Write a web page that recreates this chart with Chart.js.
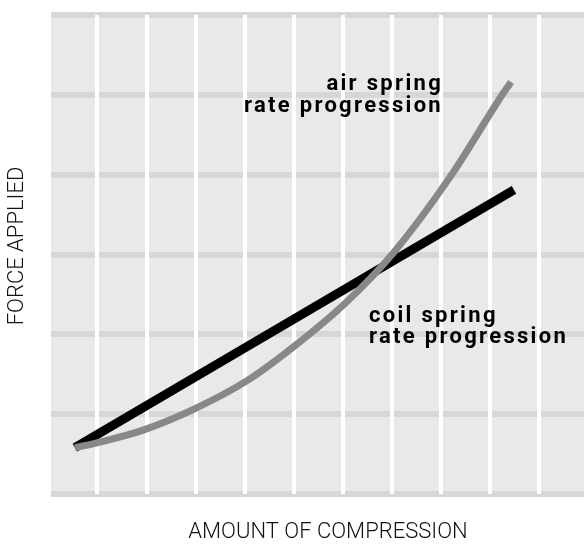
<!DOCTYPE html>
<html>
<head>
<meta charset="utf-8">
<script src="https://cdn.jsdelivr.net/npm/chart.js@4/dist/chart.umd.min.js"></script>
<style>
  html, body { margin: 0; padding: 0; background: #ffffff; }
  #wrap { width: 584px; height: 544px; }
</style>
</head>
<body>
<div id="wrap"><canvas id="chart" width="584" height="544"></canvas></div>
<script>
// air spring: progressive curve
const airX = [0.54, 1.05, 1.93, 2.99, 4.05, 5.05, 6.05, 7.03, 8.23, 9.26, 9.43]
const airY = [0.58, 0.65, 0.80, 1.07, 1.42, 1.87, 2.39, 3.02, 4.01, 5.01, 5.16]

// coil spring: straight line
const coilX = [0.54, 9.49]
const coilY = [0.58, 3.81]

// grid positions (no tick labels are shown)
const xGrid = [1, 2, 3, 4, 5, 6, 7, 8, 9, 10]
const yGrid = [0, 1, 2, 3, 4, 5, 6]

const toPoints = (xs, ys) => xs.map((x, i) => ({ x: x, y: ys[i] }))

// grey plot background, a bit taller than the chart area so the edge bands sit on it
const plotBackground = {
  id: 'plotBackground',
  beforeDraw(chart) {
    const { ctx, chartArea } = chart
    ctx.save()
    ctx.fillStyle = '#e9e9e9'
    ctx.fillRect(chartArea.left, chartArea.top - 3, chartArea.right - chartArea.left, chartArea.bottom - chartArea.top + 6)
    ctx.restore()
  }
}

// axis titles and the two curve labels
const labels = {
  id: 'labels',
  afterDatasetsDraw(chart) {
    const { ctx } = chart
    ctx.save()
    ctx.fillStyle = '#111111'

    ctx.font = '300 22px Roboto'
    ctx.textAlign = 'center'
    ctx.textBaseline = 'middle'
    ctx.fillText('AMOUNT OF COMPRESSION', 328, 532)
    ctx.save()
    ctx.translate(17, 246)
    ctx.rotate(-Math.PI / 2)
    ctx.fillText('FORCE APPLIED', 0, 0)
    ctx.restore()

    ctx.fillStyle = '#000000'
    ctx.font = 'bold 22px Roboto'
    ctx.letterSpacing = '2.3px'
    ctx.textBaseline = 'alphabetic'
    ctx.textAlign = 'right'
    ctx.fillText('air spring', 443, 90)
    ctx.fillText('rate progression', 443, 112)
    ctx.textAlign = 'left'
    ctx.fillText('coil spring', 369, 322)
    ctx.fillText('rate progression', 369, 343)
    ctx.restore()
  }
}

new Chart(document.getElementById('chart'), {
  type: 'line',
  data: {
    datasets: [
      {
        label: 'air spring rate progression',
        data: toPoints(airX, airY),
        borderColor: '#888888',
        borderWidth: 7,
        cubicInterpolationMode: 'monotone',
        borderJoinStyle: 'round',
        pointRadius: 0
      },
      {
        label: 'coil spring rate progression',
        data: toPoints(coilX, coilY),
        borderColor: '#000000',
        borderWidth: 9,
        pointRadius: 0
      }
    ]
  },
  plugins: [plotBackground, labels],
  options: {
    responsive: false,
    animation: false,
    layout: { padding: { left: 51, right: 0, top: 15, bottom: 50 } },
    plugins: {
      legend: { display: false },
      tooltip: { enabled: false }
    },
    scales: {
      x: {
        type: 'linear',
        min: 0.053,
        max: 10.917,
        afterBuildTicks: (scale) => { scale.ticks = xGrid.map(v => ({ value: v })) },
        ticks: { display: false },
        border: { display: false },
        grid: { color: '#ffffff', lineWidth: 4, drawTicks: false, z: -1 }
      },
      y: {
        type: 'linear',
        min: 0,
        max: 6,
        afterBuildTicks: (scale) => { scale.ticks = yGrid.map(v => ({ value: v })) },
        ticks: { display: false },
        border: { display: false },
        grid: { color: '#d7d7d7', lineWidth: 6, drawTicks: false, z: -2 }
      }
    }
  }
})
</script>
</body>
</html>
